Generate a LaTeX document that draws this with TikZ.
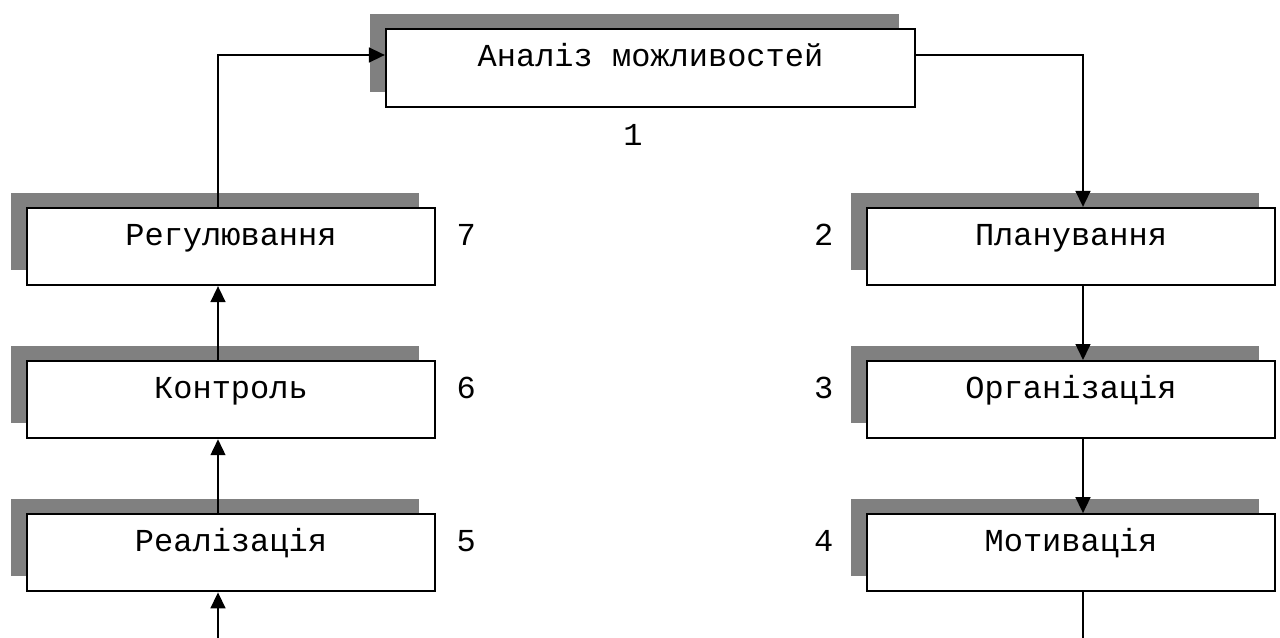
\documentclass[tikz,border=0pt]{standalone}
\usepackage{fontspec}
\newfontfamily\boxfont{Liberation Mono}
\usetikzlibrary{arrows.meta,positioning,shadows}
\definecolor{ShadowGray}{HTML}{808080}

\tikzset{
  stage/.style={draw, line width=1.6pt, fill=white, inner xsep=0pt, inner ysep=0pt,
    minimum width=306pt, text height=27.75pt, text depth=30pt,
    font=\boxfont\fontsize{24}{28}\selectfont,
    general shadow={fill=ShadowGray, draw=none, shadow xshift=-12pt, shadow yshift=11.25pt}},
  num/.style={inner sep=0pt, font=\boxfont\fontsize{24}{28}\selectfont},
  flow/.style={line width=1.8pt, -{Triangle[length=12pt,width=11pt]}},
}

\begin{document}
\begin{tikzpicture}[x=0.75pt,y=-0.75pt]
  \useasboundingbox (0,0) rectangle (1280,638);

  % top box
  \node[stage, minimum width=396.75pt, text height=28.5pt] (anal) at (650.5,68) {Аналіз можливостей};
  \node[num, below=12pt of anal, xshift=-13.1pt] (n1) {1};

  % left column
  \node[stage] (reg) at (231,246.5) {Регулювання};
  \node[stage, below=55.5pt of reg] (kontr) {Контроль};
  \node[stage, below=55.5pt of kontr] (real) {Реалізація};

  % right column
  \node[stage] (plan) at (1071,246.5) {Планування};
  \node[stage, below=55.5pt of plan] (org) {Організація};
  \node[stage, below=55.5pt of org] (motiv) {Мотивація};

  % numbers
  \node[num, right=15.3pt of reg.base east, anchor=base west] (n7) {7};
  \node[num, right=15.3pt of kontr.base east, anchor=base west] (n6) {6};
  \node[num, right=15.3pt of real.base east, anchor=base west] (n5) {5};
  \node[num, left=24.3pt of plan.base west, anchor=base east] (n2) {2};
  \node[num, left=24.3pt of org.base west, anchor=base east] (n3) {3};
  \node[num, left=24.3pt of motiv.base west, anchor=base east] (n4) {4};

  \coordinate (lbot) at (218,638);
  \coordinate (rbot) at (1083,638);

  % connectors
  \draw[flow] (reg.north -| lbot) |- ([yshift=9.75pt]anal.west);
  \draw[flow] ([yshift=9.75pt]anal.east) -| (plan.north -| rbot);
  \draw[flow] (plan.south -| rbot) -- (org.north -| rbot);
  \draw[flow] (org.south -| rbot) -- (motiv.north -| rbot);
  \draw[line width=1.8pt] (motiv.south -| rbot) -- (rbot);
  \draw[flow] (lbot) -- (real.south -| lbot);
  \draw[flow] (real.north -| lbot) -- (kontr.south -| lbot);
  \draw[flow] (kontr.north -| lbot) -- (reg.south -| lbot);
\end{tikzpicture}
\end{document}
